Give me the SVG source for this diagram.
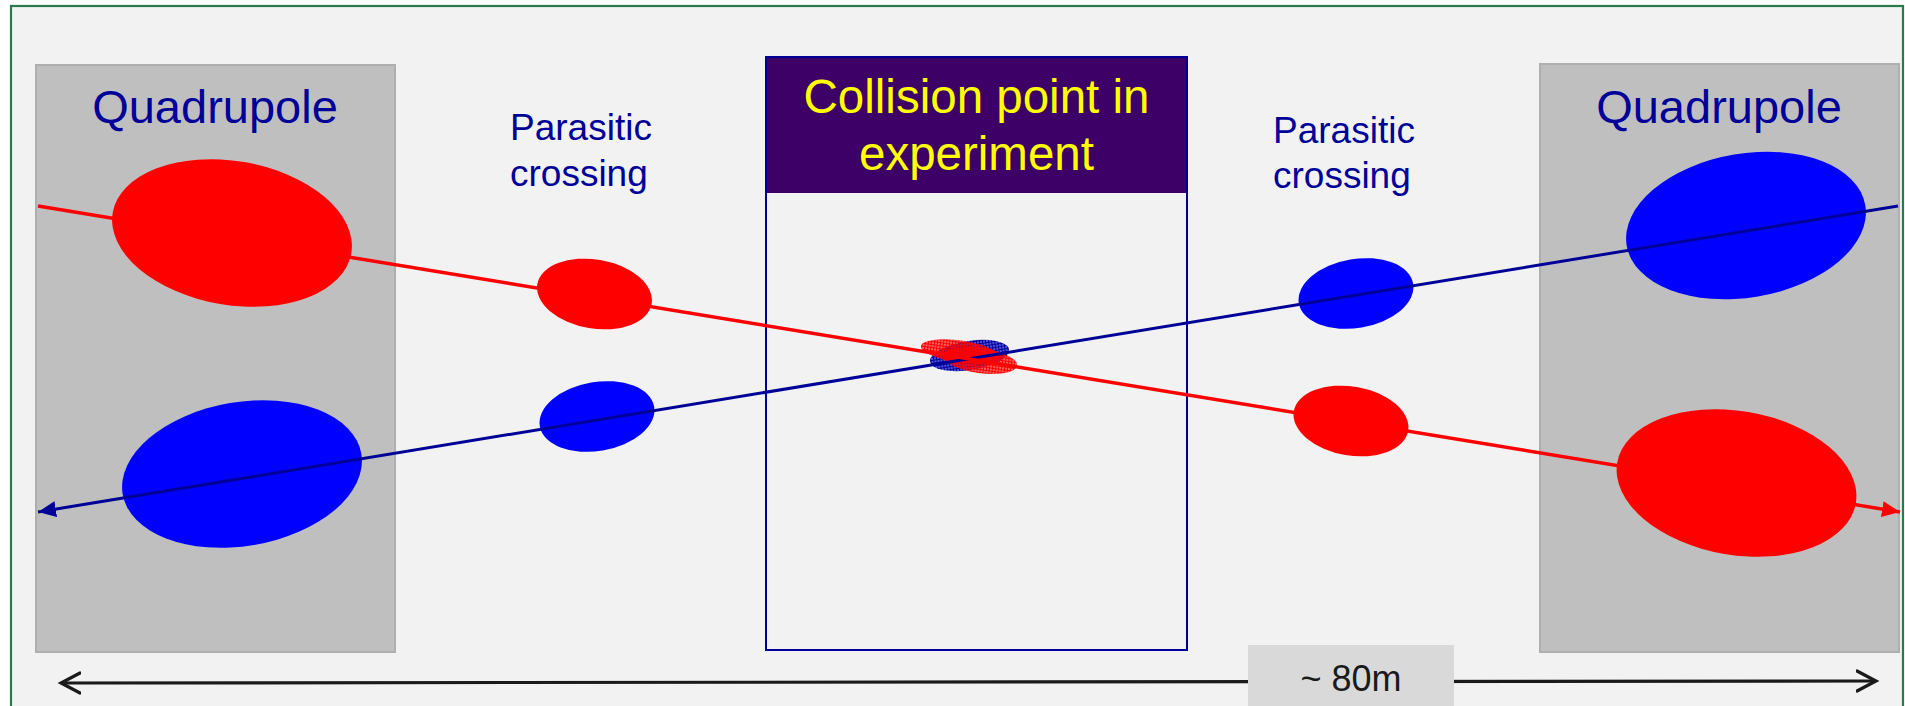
<svg xmlns="http://www.w3.org/2000/svg" width="1905" height="706" viewBox="0 0 1905 706">
<style>
.quad{fill:#bfbfbf;stroke:#afafaf;stroke-width:2}
.qtxt{font-family:"Liberation Sans",Arial,sans-serif;font-size:47px;fill:#000099;text-anchor:middle}
.ptxt{font-family:"Liberation Sans",Arial,sans-serif;font-size:37px;fill:#000099}
.ctxt{font-family:"Liberation Sans",Arial,sans-serif;font-size:47.5px;fill:#ffff00;text-anchor:middle}
.dtxt{font-family:"Liberation Sans",Arial,sans-serif;font-size:36px;fill:#1a1a1a;text-anchor:middle}
.red{fill:#ff0000}
.blue{fill:#0000ff}
.rline{stroke:#ff0000;stroke-width:3.5;fill:none}
.bline{stroke:#000099;stroke-width:3;fill:none}
</style>
<defs>
<marker id="arrRed" markerUnits="userSpaceOnUse" markerWidth="19" markerHeight="16" refX="18" refY="8" orient="auto" viewBox="0 0 19 16">
<path d="M0,0 L18,8 L0,16 z" fill="#ff0000"/>
</marker>
<marker id="arrBlue" markerUnits="userSpaceOnUse" markerWidth="19" markerHeight="16" refX="18" refY="8" orient="auto" viewBox="0 0 19 16">
<path d="M0,0 L18,8 L0,16 z" fill="#000099"/>
</marker>
<marker id="arrDim" markerUnits="userSpaceOnUse" markerWidth="24" markerHeight="26" refX="20" refY="13" orient="auto-start-reverse" viewBox="0 0 24 26">
<path d="M1,3 L20,13 L1,23" fill="none" stroke="#1a1a1a" stroke-width="3.2" stroke-linecap="round"/>
</marker>
<pattern id="hatchRed" patternUnits="userSpaceOnUse" width="3" height="3">
<rect width="3" height="3" fill="#ff0000" fill-opacity="0.6"/>
<path d="M0,0.5 H3 M0.5,0 V3" stroke="#ff0000" stroke-width="1"/>
</pattern>
<pattern id="hatchBlue" patternUnits="userSpaceOnUse" width="3" height="3">
<rect width="3" height="3" fill="#0000cc" fill-opacity="0.65"/>
<path d="M0,0.5 H3 M0.5,0 V3" stroke="#000099" stroke-width="1"/>
</pattern>
</defs>
<rect x="0" y="0" width="1905" height="706" fill="#ffffff"/>
<rect x="11" y="6" width="1892" height="720" fill="#f2f2f2" stroke="#2b7a4e" stroke-width="2.2"/>

<g id="quad-left">
<rect class="quad" x="36" y="65" width="359" height="587"/>
<text class="qtxt" x="215" y="123">Quadrupole</text>
</g>
<g id="quad-right">
<rect class="quad" x="1540" y="64" width="359" height="588"/>
<text class="qtxt" x="1719" y="123">Quadrupole</text>
</g>

<g id="collision-box">
<rect x="766" y="57" width="421" height="593" fill="#f2f2f2" stroke="#000099" stroke-width="2"/>
<rect x="767" y="58" width="419" height="135" fill="#3c0066"/>
<text class="ctxt" x="976.5" y="113">Collision point in</text>
<text class="ctxt" x="976.5" y="170">experiment</text>
</g>

<g id="parasitic-left">
<text class="ptxt" x="510" y="140">Parasitic</text>
<text class="ptxt" x="510" y="186">crossing</text>
</g>
<g id="parasitic-right">
<text class="ptxt" x="1273" y="143">Parasitic</text>
<text class="ptxt" x="1273" y="188">crossing</text>
</g>

<g id="bunches">
<ellipse class="red" cx="232" cy="233" rx="121" ry="72" transform="rotate(9.6 232 233)"/>
<ellipse class="blue" cx="242" cy="474" rx="121" ry="72" transform="rotate(-9.6 242 474)"/>
<ellipse class="blue" cx="1746" cy="225.5" rx="121" ry="72" transform="rotate(-9.6 1746 225.5)"/>
<ellipse class="red" cx="1736.5" cy="483" rx="121" ry="72" transform="rotate(9.6 1736.5 483)"/>
<ellipse class="red" cx="594.5" cy="294" rx="58" ry="34.5" transform="rotate(9.6 594.5 294)"/>
<ellipse class="blue" cx="597" cy="416.5" rx="58" ry="34.5" transform="rotate(-9.6 597 416.5)"/>
<ellipse class="blue" cx="1356" cy="293.5" rx="58" ry="34.5" transform="rotate(-9.6 1356 293.5)"/>
<ellipse class="red" cx="1351" cy="421" rx="58" ry="34.5" transform="rotate(9.6 1351 421)"/>
</g>

<g id="collision-bunches">
<ellipse cx="969.5" cy="355.5" rx="40" ry="14.5" fill="url(#hatchBlue)" transform="rotate(-9 969.5 355.5)"/>
<ellipse cx="960" cy="351.5" rx="39.5" ry="11" fill="url(#hatchRed)" transform="rotate(8 960 351.5)"/>
<ellipse cx="980" cy="360.5" rx="37.5" ry="12.5" fill="url(#hatchRed)" transform="rotate(8 980 360.5)"/>
</g>

<g id="connectors">
<line class="bline" x1="1898" y1="206" x2="38" y2="512" marker-end="url(#arrBlue)"/>
<line class="rline" x1="38" y1="206" x2="1900" y2="512" marker-end="url(#arrRed)"/>
<line x1="61" y1="683" x2="1876" y2="681" stroke="#1a1a1a" stroke-width="3.2" marker-start="url(#arrDim)" marker-end="url(#arrDim)"/>
</g>

<g id="dimension-label">
<rect x="1248" y="645" width="206" height="70" fill="#d9d9d9"/>
<text class="dtxt" x="1351" y="691">~ 80m</text>
</g>
</svg>
